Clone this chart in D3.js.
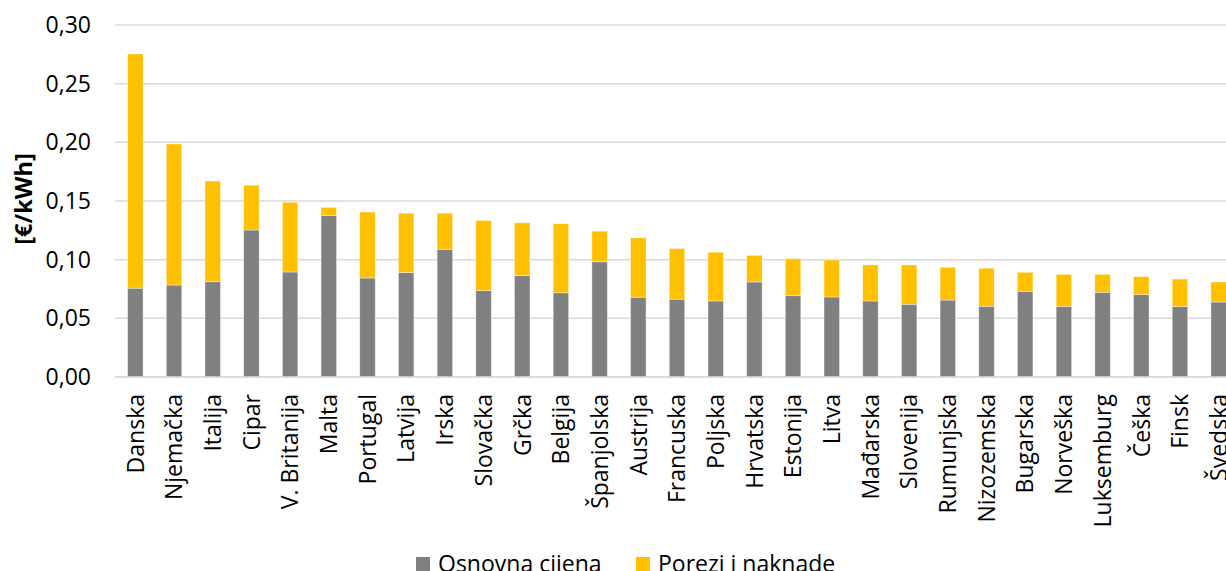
<!DOCTYPE html>
<html>
<head>
<meta charset="utf-8">
<script src="https://cdn.jsdelivr.net/npm/d3@7"></script>
<style>
  html, body { margin: 0; padding: 0; background: #fff; overflow: hidden; }
  svg { display: block; font-family: "Open Sans", "Noto Sans", sans-serif; }
</style>
</head>
<body>
<svg id="chart" width="1226" height="571"></svg>
<script>
const categories = ["Danska","Njemačka","Italija","Cipar","V. Britanija","Malta","Portugal","Latvija","Irska","Slovačka","Grčka","Belgija","Španjolska","Austrija","Francuska","Poljska","Hrvatska","Estonija","Litva","Mađarska","Slovenija","Rumunjska","Nizozemska","Bugarska","Norveška","Luksemburg","Češka","Finsk","Švedska"];
const osnovnaCijena = [0.0757,0.0784,0.0812,0.1253,0.0895,0.1375,0.0844,0.0891,0.1089,0.0737,0.0865,0.0718,0.0982,0.0680,0.0663,0.0648,0.0810,0.0693,0.0682,0.0648,0.0620,0.0656,0.0603,0.0730,0.0602,0.0722,0.0702,0.0602,0.0639];
const ukupno = [0.2753,0.1986,0.1670,0.1634,0.1489,0.1446,0.1406,0.1396,0.1396,0.1334,0.1314,0.1306,0.1243,0.1186,0.1095,0.1063,0.1037,0.1008,0.0997,0.0955,0.0955,0.0935,0.0927,0.0892,0.0875,0.0875,0.0855,0.0835,0.0810];
const poreziNaknade = ukupno.map((t, i) => +(t - osnovnaCijena[i]).toFixed(4));
const yTicks = [0, 0.05, 0.10, 0.15, 0.20, 0.25, 0.30];
const seriesNames = ["Osnovna cijena", "Porezi i naknade"];
const colors = ["#808080", "#FFC000"];

const svg = d3.select("#chart");
const mLeft = 115, mRight = 1237, mTop = 25, mBottom = 377;

const x = d3.scaleBand().domain(categories).range([mLeft + 1, mRight + 1]).paddingInner(0.6).paddingOuter(0.3);
const y = d3.scaleLinear().domain([0, 0.30]).range([mBottom, mTop]);

// gridlines
svg.append("g").selectAll("line").data(yTicks).join("line")
  .attr("x1", mLeft).attr("x2", 1226)
  .attr("y1", d => y(d)).attr("y2", d => y(d))
  .attr("stroke", "#d9d9d9").attr("stroke-width", 1.5);

// y axis labels
const fmt = d => d3.format(".2f")(d).replace(".", ",");
const yAxis = d3.axisLeft(y).tickValues(yTicks).tickFormat(fmt).tickSize(0).tickPadding(24);
const ya = svg.append("g").attr("transform", `translate(${mLeft},0)`).call(yAxis);
ya.select(".domain").remove();
ya.selectAll("text").attr("font-size", 23).attr("fill", "#000").attr("font-family", "Open Sans");

// stacked data
const data = categories.map((c, i) => ({ cat: c, v0: osnovnaCijena[i], v1: poreziNaknade[i] }));
const stack = d3.stack().keys(["v0", "v1"])(data);

svg.append("g").selectAll("g").data(stack).join("g")
  .attr("fill", (d, i) => colors[i])
  .selectAll("rect").data(d => d).join("rect")
  .attr("x", d => x(d.data.cat))
  .attr("width", x.bandwidth())
  .attr("y", d => y(d[1]))
  .attr("height", d => y(d[0]) - y(d[1]))
  .attr("stroke", "#ffffff").attr("stroke-opacity", 0.5).attr("stroke-width", 0.75);

// x axis
const xAxis = d3.axisBottom(x).tickSize(0).tickPadding(0);
const xa = svg.append("g").attr("transform", `translate(0,${mBottom})`).call(xAxis);
xa.select(".domain").attr("stroke", "#d9d9d9").attr("stroke-width", 1.5).attr("d", `M${mLeft},0H1226`);
xa.selectAll("text")
  .attr("font-size", 23).attr("fill", "#000").attr("font-family", "Open Sans")
  .attr("text-anchor", "end")
  .attr("transform", "rotate(-90)")
  .attr("x", -17).attr("y", 0).attr("dy", "0.36em");

// y title
svg.append("text")
  .attr("transform", "translate(24,199) rotate(-90)")
  .attr("text-anchor", "middle").attr("dy", "0.36em")
  .attr("font-size", 23.5).attr("font-weight", "bold").attr("fill", "#000")
  .text("[€/kWh]");

// legend
const legendItems = [{ x: 416, tx: 438 }, { x: 636, tx: 658 }];
const lg = svg.append("g").selectAll("g").data(seriesNames).join("g");
lg.append("rect")
  .attr("x", (d, i) => legendItems[i].x).attr("y", 557)
  .attr("width", 14).attr("height", 14)
  .attr("fill", (d, i) => colors[i]);
lg.append("text")
  .attr("x", (d, i) => legendItems[i].tx).attr("y", 572)
  .attr("font-size", 23).attr("fill", "#000")
  .text(d => d);
</script>
</body>
</html>
